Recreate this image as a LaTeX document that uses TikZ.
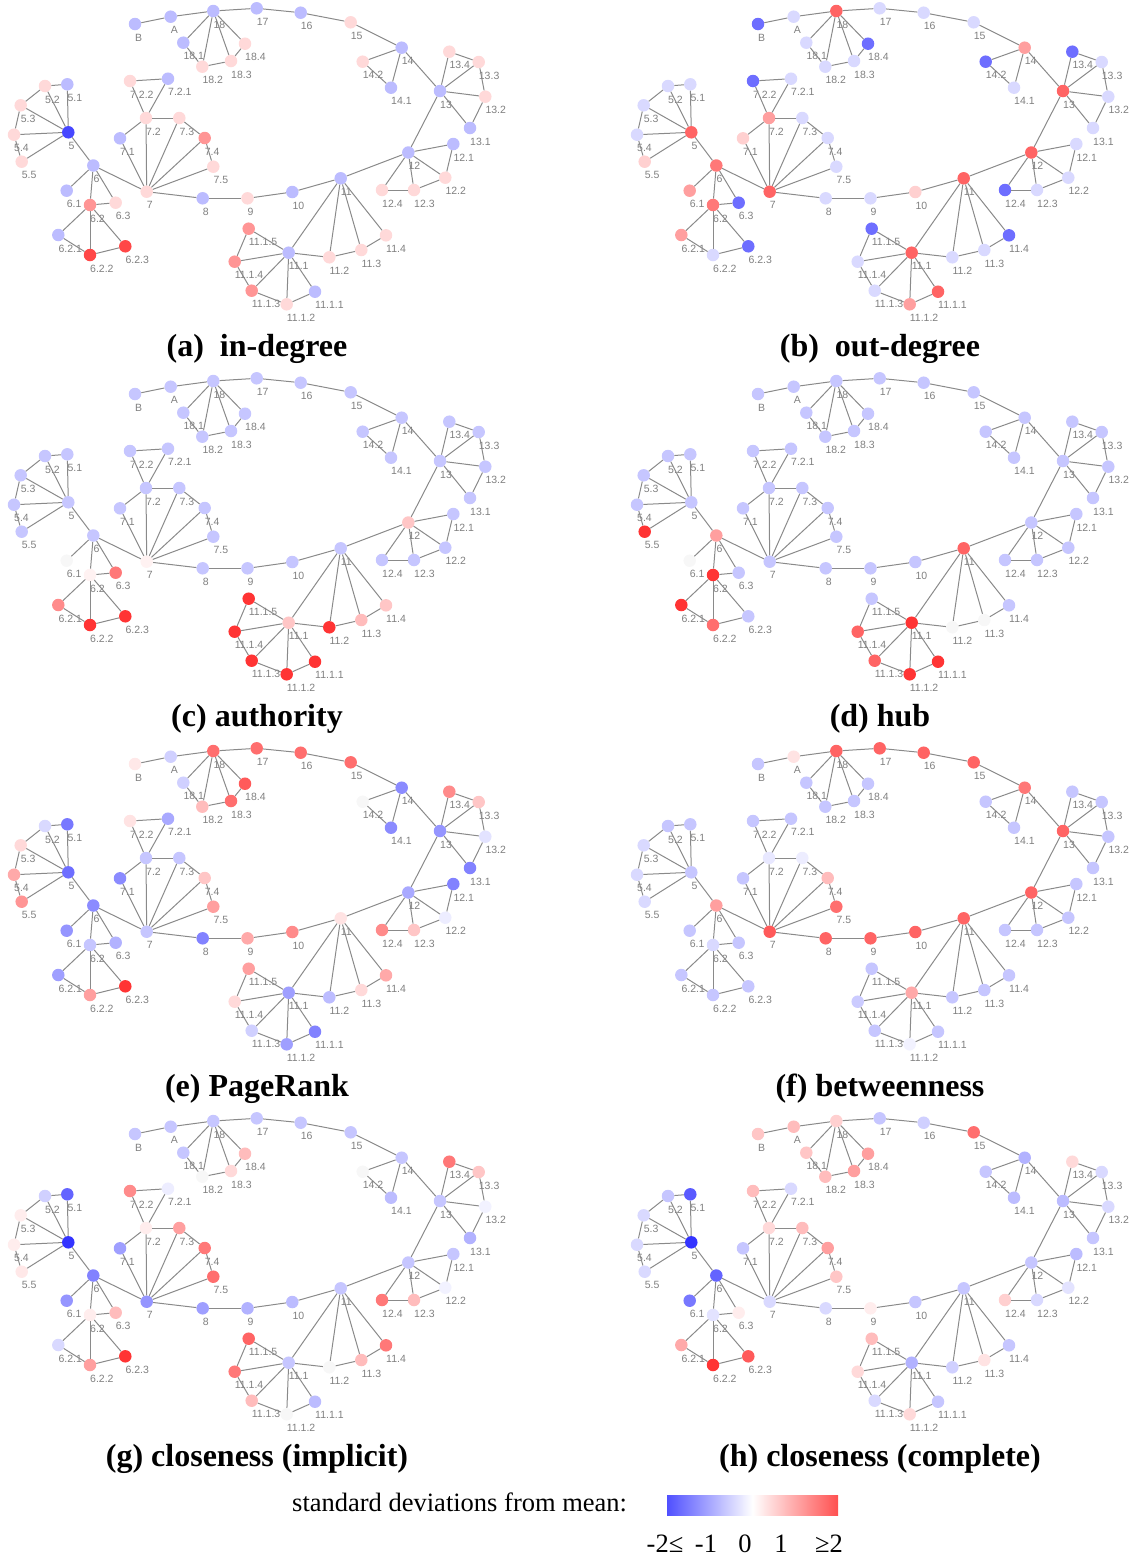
\documentclass[tikz,border=0pt]{standalone}
\usepackage{fontspec}
\setmainfont{Liberation Serif}
\newfontfamily\lblfont{Liberation Sans}
\usetikzlibrary{shapes,arrows}
\definecolor{edgegray}{RGB}{138,138,138}
\definecolor{lblgray}{RGB}{128,128,128}
\definecolor{lowblue}{RGB}{80,80,255}
\definecolor{highred}{RGB}{255,80,80}
\tikzstyle{vertex} = [circle, inner sep=0pt, minimum size=12.5pt]
\tikzstyle{line} = [draw=edgegray, line width=1pt]
\tikzstyle{lbl} = [font=\lblfont\fontsize{10.5}{12}\selectfont, text=lblgray, inner sep=0pt]
\tikzstyle{caption} = [font=\bfseries\fontsize{32}{36}\selectfont, anchor=base]
\tikzstyle{legend} = [font=\fontsize{26.5}{30}\selectfont, anchor=base, inner sep=0pt]

% vertices: name/text/x/y, positions of the first panel
\def\vertices{B/B/135/24, A/A/170.7/16.7, 18/18/213.3/11, 18-1/18.1/183.3/42.7,
	18-2/18.2/202.3/66.7, 18-3/18.3/231/61, 18-4/18.4/245/43.7, 17/17/256.7/8.3,
	16/16/300.7/12.7, 15/15/350.7/22.3, 14/14/401.7/47.7, 14-2/14.2/362.7/61.7,
	14-1/14.1/391/87.7, 13/13/440/91, 13-4/13.4/449.3/51.7, 13-3/13.3/478.7/62,
	13-2/13.2/485.3/96.7, 13-1/13.1/470/128, 12/12/408.3/152.5, 12-1/12.1/453.3/144,
	12-2/12.2/445.3/177.7, 12-3/12.3/414/190, 12-4/12.4/382/190, 11/11/340.7/178.3,
	11-1/11.1/288.7/252.7, 11-2/11.2/329.3/257.3, 11-3/11.3/361.3/250, 11-4/11.4/386/235.3,
	11-1-5/11.1.5/248.7/228.7, 11-1-4/11.1.4/234.7/261.7, 11-1-3/11.1.3/251.7/290.7,
	11-1-2/11.1.2/286.7/304.3, 11-1-1/11.1.1/315/291.7, 10/10/292.3/192, 9/9/247.5/198.3,
	8/8/202.7/198.3, 7/7/146.7/191.7, 7-1/7.1/120/138.3, 7-2/7.2/146/118, 7-3/7.3/179.3/118,
	7-4/7.4/204.7/138, 7-5/7.5/213.3/166.7, 7-2-2/7.2.2/130/81, 7-2-1/7.2.1/168/78.7,
	6/6/93.3/165.5, 6-1/6.1/66.7/190.7, 6-2/6.2/90/205, 6-3/6.3/115.7/202.7,
	6-2-1/6.2.1/58.3/235, 6-2-2/6.2.2/90/255, 6-2-3/6.2.3/125.3/246.3, 5/5/68.3/132.3,
	5-1/5.1/67.3/84.3, 5-2/5.2/45/86, 5-3/5.3/20.7/105.3, 5-4/5.4/14/134.7, 5-5/5.5/21.7/161.7}

% edges
\def\links{B/A, A/18, 18/17, 17/16, 16/15, 15/14, 18/18-1, 18/18-2, 18/18-3, 18/18-4,
	18-1/18-2, 18-2/18-3, 18-3/18-4, 14/14-2, 14/14-1, 14-2/14-1, 14/13, 13/13-4, 13/13-3,
	13/13-2, 13/13-1, 13-4/13-3, 13-3/13-2, 13-2/13-1, 13/12, 12/12-1, 12/12-2, 12/12-3,
	12/12-4, 12-1/12-2, 12-2/12-3, 12-3/12-4, 12/11, 11/10, 10/9, 9/8, 8/7, 11/11-1, 11/11-2,
	11/11-3, 11/11-4, 11-1/11-2, 11-2/11-3, 11-3/11-4, 11-1/11-1-5, 11-1/11-1-4, 11-1/11-1-3,
	11-1/11-1-2, 11-1/11-1-1, 11-1-5/11-1-4, 11-1-4/11-1-3, 11-1-3/11-1-2, 11-1-2/11-1-1,
	7/7-1, 7/7-2, 7/7-3, 7/7-4, 7/7-5, 7-1/7-2, 7-2/7-3, 7-3/7-4, 7-4/7-5, 7-2/7-2-2,
	7-2/7-2-1, 7-2-2/7-2-1, 7/6, 6/5, 5/5-1, 5/5-2, 5/5-3, 5/5-4, 5/5-5, 5-1/5-2, 5-2/5-3,
	5-3/5-4, 5-4/5-5, 6/6-1, 6/6-2, 6/6-3, 6-2/6-3, 6-2/6-2-1, 6-2/6-2-2, 6-2/6-2-3,
	6-2-1/6-2-2, 6-2-2/6-2-3}

% standard deviations from mean, same order as \vertices
\def\valsIn{{-0.6,-0.6,-0.6,-0.6,0.3,0.3,0.3,-0.6,-0.6,0.3,%
	-0.6,0.3,-0.6,-0.6,0.3,0.3,0.3,-0.6,%
	-0.6,-0.6,0.3,0.3,0.3,%
	-0.6,-0.6,0.3,0.3,0.3,1.0,1.0,1.0,0.3,-0.6,%
	-0.6,0.3,-0.6,%
	0.3,-0.6,0.3,0.3,1.0,0.3,0.3,-0.6,%
	-0.6,-0.6,1.0,0.3,-0.6,1.8,1.8,%
	-1.8,-0.6,0.3,0.3,0.3,0.3}}
\def\valsOut{{-1.4,-0.3,1.5,-0.3,-0.3,-0.3,-1.4,-0.3,-0.3,-0.3,%
	0.9,-1.4,-0.3,1.5,-1.4,-0.3,-0.3,-0.3,%
	1.5,-0.3,-0.3,-0.3,-1.4,%
	1.5,1.5,-0.3,-0.3,-1.4,-1.4,-0.3,-0.3,0.9,1.5,%
	0.4,-0.3,-0.3,%
	1.5,0.4,0.9,-0.3,-0.3,-0.3,-1.4,-0.3,%
	1.3,0.9,1.3,-1.4,0.9,-0.3,-1.4,%
	1.5,-0.3,-0.3,-0.3,-0.3,0.4}}
\def\valsAuth{{-0.5,-0.5,-0.5,-0.5,-0.5,-0.5,-0.5,-0.5,-0.5,-0.5,%
	-0.5,-0.5,-0.5,-0.5,-0.5,-0.5,-0.5,-0.5,%
	0.5,-0.5,-0.5,-0.5,-0.5,%
	-0.5,0.5,2,0.6,0.5,2,2,2,2,2,%
	-0.5,-0.5,-0.5,%
	0.05,-0.5,-0.5,-0.5,-0.5,-0.5,-0.5,-0.5,%
	-0.5,0,0.05,1.3,1.1,2,2,%
	-0.5,-0.5,-0.5,-0.5,-0.5,-0.5}}
\def\valsHub{{-0.5,-0.5,-0.5,-0.5,-0.5,-0.5,-0.5,-0.5,-0.5,-0.5,%
	-0.5,-0.5,-0.5,-0.5,-0.5,-0.5,-0.5,-0.5,%
	-0.5,-0.5,-0.5,-0.5,-0.5,%
	1.5,2,0,0,-0.5,-0.5,1.5,1.5,2,2,%
	-0.5,-0.5,-0.5,%
	-0.5,-0.5,-0.5,-0.5,-0.5,-0.5,-0.5,-0.5,%
	0.9,0,2,-0.5,2,1.4,-0.5,%
	-0.5,-0.5,-0.5,-0.5,-0.5,2}}
\def\valsRank{{0.15,-0.4,1.4,-0.4,0.6,1.4,1.6,1.4,1.4,1.4,%
	-1.1,0,-1.1,-1.0,1.1,0.5,-0.2,-1.2,%
	-0.8,-1.2,-0.1,0.5,1.1,%
	0.2,-0.9,-0.6,0.3,0.8,0.9,0.3,-0.4,-0.9,-1.2,%
	1.1,0.8,-1.2,%
	-0.5,-1.1,-0.5,-0.5,0.5,0.9,0.2,-0.8,%
	-1.1,-1.0,-0.5,-0.7,-0.9,0.9,2,%
	-1.4,-1.3,-0.3,0.3,0.8,1.0}}
\def\valsBtw{{-0.5,0.2,1.5,-0.5,-0.5,-0.5,-0.5,1.5,1.5,1.5,%
	1.3,-0.5,-0.5,1.5,-0.5,-0.5,-0.5,-0.5,%
	1.5,-0.5,-0.5,-0.5,-0.5,%
	1.5,0.8,-0.5,-0.5,-0.5,-0.5,-0.45,-0.5,-0.05,-0.5,%
	1.5,1.5,1.5,%
	1.6,-0.5,-0.15,-0.1,0.6,1.4,-0.5,-0.5,%
	0.9,-0.5,-0.3,-0.5,-0.5,-0.5,-0.5,%
	-0.5,-0.5,-0.5,-0.3,-0.3,-0.3}}
\def\valsClI{{-0.5,-0.5,-0.5,-0.5,0,0.3,0.6,-0.5,-0.5,-0.5,%
	-0.5,0,-0.6,-0.5,1.3,0.5,-0.05,-0.7,%
	-0.5,-0.5,-0.05,0.6,1.3,%
	-0.5,-0.5,0,0.6,1.3,1.5,1.3,0.6,0,-0.6,%
	-0.6,-0.7,-0.9,%
	-1.0,-0.9,0.1,0.9,1.3,1.4,1.1,-0.1,%
	-1.2,-1.0,0.1,0.6,-0.3,0.9,2,%
	-2,-1.5,-0.4,0.1,0.1,0.15}}
\def\valsClC{{0.5,0.6,0.4,0.5,0.6,0.9,0.9,-0.5,-0.4,1.4,%
	-0.7,-0.5,-0.6,-0.6,0.3,-0.3,-0.3,-0.5,%
	-0.5,-0.6,-0.2,-0.3,0.4,%
	-0.5,-0.7,-0.4,0.2,-0.5,0.6,0.3,-0.3,0.3,-0.5,%
	-0.5,0.1,-0.3,%
	-0.3,-0.5,0.3,0.6,0.9,0.5,0.6,-0.3,%
	-1.5,-1.3,-0.2,0.1,0.8,2,1.6,%
	-2,-1.6,-0.5,-0.3,-0.3,-0.3}}

% one copy of the network: prefix, x shift, y shift, values
\newcommand{\netpanel}[4]{%
	\foreach \nm/\tx/\px/\py [count=\idx from 0] in \vertices {
		\pgfmathsetmacro\val{#4[\idx]}
		\pgfmathsetmacro\tint{min(abs(\val)/2,1)}
		\pgfmathtruncatemacro\cR{ifthenelse(\val<0,247-195*\tint,ifthenelse(\val>0,255,247))}
		\pgfmathtruncatemacro\cG{247-195*\tint}
		\pgfmathtruncatemacro\cB{ifthenelse(\val>0,247-195*\tint,ifthenelse(\val<0,255,247))}
		\node [vertex, fill={rgb,255:red,\cR;green,\cG;blue,\cB},
			label={[lbl,anchor=west,label distance=7pt]-90:\tx}] (#1-\nm) at (#2+\px,#3+\py) {};
	}
	\foreach \u/\w in \links {
		\path [line] (#1-\u) -- (#1-\w);
	}
}

\begin{document}
\begin{tikzpicture}[x=1pt, y=-1pt]
	\useasboundingbox (0,0) rectangle (1135,1556);
	% Place the eight networks
	\netpanel{a}{0}{0}{\valsIn}
	\netpanel{b}{623}{0}{\valsOut}
	\netpanel{c}{0}{370}{\valsAuth}
	\netpanel{d}{623}{370}{\valsHub}
	\netpanel{e}{0}{740}{\valsRank}
	\netpanel{f}{623}{740}{\valsBtw}
	\netpanel{g}{0}{1110}{\valsClI}
	\netpanel{h}{623}{1110}{\valsClC}
	% Captions
	\node [caption] (capa) at (257,356) {(a)\enspace in-degree};
	\node [caption] (capb) at (880,356) {(b)\enspace out-degree};
	\node [caption] (capc) at (257,726) {(c) authority};
	\node [caption] (capd) at (880,726) {(d) hub};
	\node [caption] (cape) at (257,1096) {(e) PageRank};
	\node [caption] (capf) at (880,1096) {(f) betweenness};
	\node [caption] (capg) at (257,1466) {(g) closeness (implicit)};
	\node [caption] (caph) at (880,1466) {(h) closeness (complete)};
	% Colour scale
	\node [legend, anchor=base west] (scaletext) at (292,1511) {standard deviations from mean:};
	\node [inner sep=0pt, minimum width=171pt, minimum height=20pt, left color=lowblue,
		right color=highred, middle color=white] (scalebar) at (752.5,1505.5) {};
	\node [legend] (tickm2) at (665,1552) {-2≤};
	\node [legend] (tickm1) at (706,1552) {-1};
	\node [legend] (tick0) at (745,1552) {0};
	\node [legend] (tick1) at (781,1552) {1};
	\node [legend] (tick2) at (829,1552) {≥2};
\end{tikzpicture}
\end{document}
